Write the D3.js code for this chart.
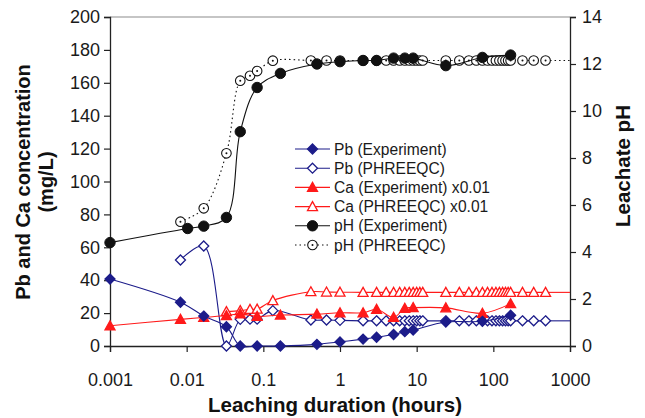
<!DOCTYPE html>
<html>
<head>
<meta charset="utf-8">
<script src="https://cdn.jsdelivr.net/npm/d3@7"></script>
<style>
  body { margin: 0; background: #fff; }
  svg { display: block; font-family: "Liberation Sans", Arial, sans-serif; }
</style>
</head>
<body>
<div id="chart"></div>
<script>
// ---------------------------------------------------------------
// Data
// ---------------------------------------------------------------
// experiment sampling times (hours)
const expTime = [0.001, 0.0083, 0.0167, 0.033, 0.05, 0.083, 0.167, 0.5, 1, 2, 3, 5, 7, 9, 24, 72, 168];
const pbExp   = [40.7, 26.6, 18.2, 11.7, 0, 0, 0, 1, 2.5, 4.2, 5.3, 7, 8.7, 9.7, 14.6, 15, 18.7];
const caExp   = [12.3, 16.2, 17.4, 18.5, 19.5, 18, 18.8, 19.4, 20.2, 20.2, 22.3, 17.4, 22.9, 23.3, 23.2, 19.9, 25.7];

const phExpTime = [0.001, 0.0103, 0.0167, 0.033, 0.05, 0.083, 0.167, 0.5, 1, 2, 3, 5, 7, 9, 24, 72, 168];
const phExp     = [4.4, 5.0, 5.1, 5.47, 9.12, 11.0, 11.6, 12.0, 12.1, 12.15, 12.15, 12.25, 12.25, 12.25, 11.93, 12.28, 12.38];

// PHREEQC model times (hours)
const simTime = [0.0083, 0.0167, 0.033, 0.05, 0.067, 0.083, 0.133, 0.417, 0.667, 1, 2, 3, 4, 5, 6, 7, 8, 9, 10, 11, 12,
                 24, 36, 48, 60, 72, 84, 96, 108, 120, 132, 144, 156, 168, 240, 336, 480];
const pbSim = [52.3, 60.8, 0, 16.2, 16.3, 16.3, 21.5, 15.8, 15.8, 15.6, 15.3, 15.3, 15.3, 15.3, 15.3, 15.3, 15.3, 15.3, 15.3, 15.3, 15.3,
               15.3, 15.3, 15.3, 15.3, 15.3, 15.3, 15.3, 15.3, 15.3, 15.3, 15.3, 15.3, 15.3, 15.3, 15.3, 15.3];
const caSim = [null, null, 20.9, 21.5, 22.3, 22.4, 27.6, 33, 32.8, 32.7, 32.6, 32.6, 32.6, 32.6, 32.6, 32.6, 32.6, 32.6, 32.6, 32.6, 32.6,
               32.6, 32.6, 32.6, 32.6, 32.6, 32.6, 32.6, 32.6, 32.6, 32.6, 32.6, 32.6, 32.6, 32.6, 32.6, 32.6];
const phSim = [5.29, 5.86, 8.2, 11.29, 11.5, 11.7, 12.14, 12.15, 12.15, 12.15, 12.15, 12.15, 12.15, 12.15, 12.15, 12.15, 12.15, 12.15, 12.15, 12.15, 12.15,
               12.15, 12.15, 12.15, 12.15, 12.15, 12.15, 12.15, 12.15, 12.15, 12.15, 12.15, 12.15, 12.15, 12.15, 12.15, 12.15];

const xTicks  = [0.001, 0.01, 0.1, 1, 10, 100, 1000];
const yTicks  = [0, 20, 40, 60, 80, 100, 120, 140, 160, 180, 200];
const y2Ticks = [0, 2, 4, 6, 8, 10, 12, 14];

const legendLabels = ["Pb (Experiment)", "Pb (PHREEQC)", "Ca (Experiment) x0.01",
                      "Ca (PHREEQC) x0.01", "pH (Experiment)", "pH (PHREEQC)"];

// ---------------------------------------------------------------
// SVG set up
// ---------------------------------------------------------------
const W = 645, H = 418;
const margin = { top: 17, right: 75, bottom: 72, left: 110 };
const width = W - margin.left - margin.right;   // 460
const height = H - margin.top - margin.bottom;  // 329

const svg = d3.select("#chart").append("svg")
  .attr("width", W).attr("height", H);

const g = svg.append("g")
  .attr("transform", `translate(${margin.left},${margin.top})`);

const x = d3.scaleLog().domain([0.001, 1000]).range([0, width]);
const y = d3.scaleLinear().domain([0, 200]).range([height, 0]);
const y2 = d3.scaleLinear().domain([0, 14]).range([height, 0]);

const NAVY = "#1c1c8a", RED = "#ff1a1a", BLACK = "#111";
const tickFont = "18px";

// top border
g.append("line")
  .attr("x1", 0).attr("x2", width).attr("y1", 0).attr("y2", 0)
  .attr("stroke", "#8c8c8c").attr("stroke-width", 1.2);

// axes
const xAxis = g.append("g")
  .attr("transform", `translate(0,${height})`)
  .call(d3.axisBottom(x).tickValues(xTicks).tickFormat(d => String(d)).tickSize(6).tickPadding(21));

const yAxis = g.append("g")
  .call(d3.axisLeft(y).tickValues(yTicks).tickSize(6).tickPadding(4));

const y2Axis = g.append("g")
  .attr("transform", `translate(${width},0)`)
  .call(d3.axisRight(y2).tickValues(y2Ticks).tickSize(6).tickPadding(6));

[xAxis, yAxis, y2Axis].forEach(a => {
  a.select(".domain").attr("stroke", "#222").attr("stroke-width", 1.3);
  a.selectAll(".tick line").attr("stroke", "#222").attr("stroke-width", 1.2);
  a.selectAll("text").attr("font-size", tickFont).attr("fill", "#1a1a1a")
    .attr("font-family", "'Liberation Sans', Arial, sans-serif");
});

// axis titles
svg.append("text")
  .attr("x", margin.left + width / 2 - 5).attr("y", 412)
  .attr("text-anchor", "middle").attr("font-weight", "bold").attr("font-size", "20.5px")
  .attr("fill", "#111").text("Leaching duration (hours)");

const yt = svg.append("text")
  .attr("transform", "translate(30,182) rotate(-90)")
  .attr("text-anchor", "middle").attr("font-weight", "bold").attr("font-size", "20px")
  .attr("fill", "#111");
yt.append("tspan").attr("x", 0).attr("dy", 0).text("Pb and Ca concentration");
yt.append("tspan").attr("x", 0).attr("dy", "1.15em").text("(mg/L)");

svg.append("text")
  .attr("transform", "translate(630,166) rotate(-90)")
  .attr("text-anchor", "middle").attr("font-weight", "bold").attr("font-size", "20.5px")
  .attr("fill", "#111").text("Leachate pH");

// ---------------------------------------------------------------
// marker shapes
// ---------------------------------------------------------------
function drawMarker(sel, type, color) {
  if (type === "diamond" || type === "diamondOpen") {
    sel.append("path").attr("d", "M0,-5L5,0L0,5L-5,0Z")
      .attr("fill", type === "diamond" ? color : "#fff")
      .attr("stroke", color).attr("stroke-width", 1.3);
  } else if (type === "tri" || type === "triOpen") {
    sel.append("path").attr("d", "M0,-5L5,4L-5,4Z")
      .attr("fill", type === "tri" ? color : "#fff")
      .attr("stroke", color).attr("stroke-width", 1.3);
  } else if (type === "circle") {
    sel.append("circle").attr("r", 5.2).attr("fill", color).attr("stroke", color);
  } else if (type === "circleOpen") {
    sel.append("circle").attr("r", 4.8).attr("fill", "#fff")
      .attr("stroke", color).attr("stroke-width", 1.1);
    sel.append("circle").attr("r", 1).attr("fill", color);
  }
}

// ---------------------------------------------------------------
// series
// ---------------------------------------------------------------
const series = [
  { name: legendLabels[3], t: simTime,   v: caSim, scale: y,  color: RED,   marker: "triOpen",     dash: null,  extend: true },
  { name: legendLabels[1], t: simTime,   v: pbSim, scale: y,  color: NAVY,  marker: "diamondOpen", dash: null,  extend: true },
  { name: legendLabels[5], t: simTime,   v: phSim, scale: y2, color: BLACK, marker: "circleOpen",  dash: "1.5,3", extend: true },
  { name: legendLabels[2], t: expTime,   v: caExp, scale: y,  color: RED,   marker: "tri",         dash: null,  extend: false },
  { name: legendLabels[0], t: expTime,   v: pbExp, scale: y,  color: NAVY,  marker: "diamond",     dash: null,  extend: false },
  { name: legendLabels[4], t: phExpTime, v: phExp, scale: y2, color: BLACK, marker: "circle",      dash: null,  extend: false }
];

const line = d3.line().curve(d3.curveCatmullRom.alpha(0.5));

series.forEach(s => {
  const pts = s.t.map((t, i) => ({ t, v: s.v[i] })).filter(d => d.v != null);
  const xy = pts.map(d => [x(d.t), s.scale(d.v)]);
  g.append("path")
    .attr("d", line(xy))
    .attr("fill", "none").attr("stroke", s.color).attr("stroke-width", 1.1)
    .attr("stroke-dasharray", s.dash);
  if (s.extend) {
    const last = xy[xy.length - 1];
    g.append("line")
      .attr("x1", last[0]).attr("x2", x.range()[1])
      .attr("y1", last[1]).attr("y2", last[1])
      .attr("stroke", s.color).attr("stroke-width", 1.1)
      .attr("stroke-dasharray", s.dash);
  }
  g.append("g").selectAll("g").data(pts).join("g")
    .attr("transform", d => `translate(${x(d.t)},${s.scale(d.v)})`)
    .each(function() { drawMarker(d3.select(this), s.marker, s.color); });
});

// ---------------------------------------------------------------
// legend
// ---------------------------------------------------------------
const legend = svg.append("g").attr("transform", "translate(295,149)");
legendLabels.forEach((lab, i) => {
  const s = series.find(d => d.name === lab);
  const row = legend.append("g").attr("transform", `translate(0,${i * 19.2})`);
  row.append("line").attr("x1", 0).attr("x2", 35).attr("y1", 0).attr("y2", 0)
    .attr("stroke", s.color).attr("stroke-width", 1.1).attr("stroke-dasharray", s.dash);
  const m = row.append("g").attr("transform", "translate(17.5,0)");
  drawMarker(m, s.marker, s.color);
  row.append("text").attr("x", 39).attr("y", 0).attr("dy", "0.36em")
    .attr("font-size", "15.6px").attr("fill", "#1a1a1a").text(lab);
});
</script>
</body>
</html>
